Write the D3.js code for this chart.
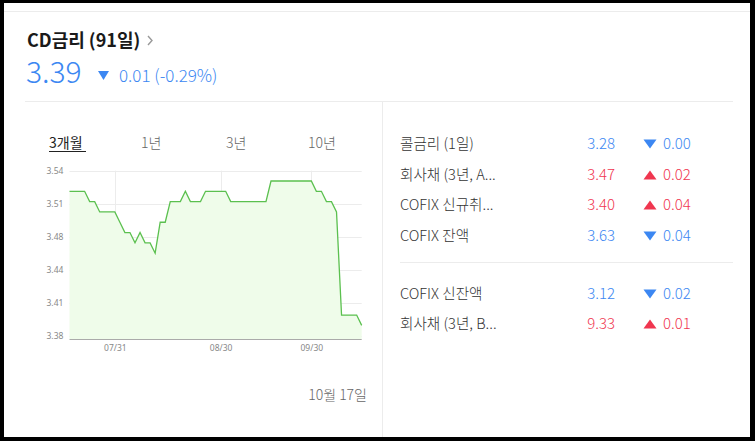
<!DOCTYPE html>
<html><head><meta charset="utf-8">
<script src="https://cdn.jsdelivr.net/npm/d3@7"></script>
<style>
html,body{margin:0;padding:0;background:#000;}
svg{display:block;font-family:"Noto Sans CJK KR","Noto Sans",sans-serif;}
</style></head>
<body>
<svg id="c" width="755" height="441"></svg>
<script>
// ---- data ----
const dates = ["07/18","07/19","07/22","07/23","07/24","07/25","07/26","07/29","07/30","07/31",
"08/01","08/02","08/05","08/06","08/07","08/08","08/09","08/12","08/13","08/14","08/16","08/19","08/20","08/21","08/22","08/23","08/26","08/27","08/28","08/29","08/30",
"09/02","09/03","09/04","09/05","09/06","09/09","09/10","09/11","09/12","09/13","09/19","09/20","09/23","09/24","09/25","09/26","09/27","09/30",
"10/02","10/04","10/07","10/08","10/10","10/11","10/14","10/15","10/16","10/17"];
const values = [3.52,3.52,3.52,3.52,3.51,3.51,3.50,3.50,3.50,3.50,
3.49,3.48,3.48,3.47,3.48,3.47,3.47,3.46,3.49,3.49,3.51,3.51,3.51,3.52,3.51,3.51,3.51,3.52,3.52,3.52,3.52,
3.52,3.51,3.51,3.51,3.51,3.51,3.51,3.51,3.51,3.53,3.53,3.53,3.53,3.53,3.53,3.53,3.53,3.53,
3.52,3.52,3.51,3.51,3.50,3.40,3.40,3.40,3.40,3.39];
const xTickLabels = ["07/31","08/30","09/30"];
const yTicks = [3.38,3.412,3.444,3.476,3.508,3.54];
const tabs = ["3개월","1년","3년","10년"];
const rowNames = ["콜금리 (1일)","회사채 (3년, A...","COFIX 신규취...","COFIX 잔액","COFIX 신잔액","회사채 (3년, B..."];
const rowValues = ["3.28","3.47","3.40","3.63","3.12","9.33"];
const rowChanges = ["0.00","0.02","0.04","0.04","0.02","0.01"];
const rowDir = ["down","up","up","down","down","up"];
const headline = {title:"CD금리 (91일)", value:"3.39", change:"0.01 (-0.29%)", date:"10월 17일"};

const BLUE="#3c87f2", RED="#f0364f";
const svg = d3.select("#c");
// frame
svg.append("rect").attr("x",4).attr("y",3).attr("width",746).attr("height",434).attr("fill","#fff");
svg.append("line").attr("x1",4).attr("x2",750).attr("y1",11.5).attr("y2",11.5).attr("stroke","#ececec");
svg.append("line").attr("x1",25).attr("x2",733).attr("y1",101.5).attr("y2",101.5).attr("stroke","#ececec");
svg.append("line").attr("x1",382.5).attr("x2",382.5).attr("y1",101.5).attr("y2",437).attr("stroke","#ececec");

// header
svg.append("text").attr("x",27).attr("y",47).attr("font-size",18).attr("font-weight",700).attr("fill","#1a1a1a").text(headline.title);
svg.append("path").attr("d","M148,36 L152,40.5 L148,45").attr("fill","none").attr("stroke","#999").attr("stroke-width",1.4);
svg.append("text").attr("x",26).attr("y",83).attr("font-size",30).attr("font-weight",300).attr("fill",BLUE).text(headline.value);
svg.append("path").attr("d","M98,71 L109,71 L103.5,80 Z").attr("fill",BLUE);
svg.append("text").attr("x",119).attr("y",82).attr("font-size",17).attr("font-weight",300).attr("fill",BLUE).text(headline.change);

// tabs
const tabX = [49,141,226,308];
tabs.forEach((s,i)=>{
  svg.append("text").attr("x",tabX[i]).attr("y",148).attr("font-size",14).attr("font-weight",i===0?400:300)
    .attr("fill",i===0?"#222":"#666").text(s);
});
svg.append("line").attr("x1",49).attr("x2",86).attr("y1",151.5).attr("y2",151.5).attr("stroke","#222").attr("stroke-width",1);

// chart
const pLeft=69.5, pRight=361.7, pTop=170.7, pBot3=335.7, pBottom=339;
const x = d3.scaleLinear().domain([0, dates.length-1]).range([pLeft,pRight]);
const y = d3.scaleLinear().domain([3.38,3.54]).range([pBot3, pTop]);
const g = svg.append("g");
// horizontal grid
g.selectAll("line.hg").data(yTicks).join("line").attr("class","hg")
  .attr("x1",pLeft).attr("x2",pRight).attr("y1",d=>Math.round(y(d))+0.5).attr("y2",d=>Math.round(y(d))+0.5)
  .attr("stroke","#ececec");
// vertical grid
const xTickIdx = xTickLabels.map(l=>dates.indexOf(l));
g.selectAll("line.vg").data(xTickIdx).join("line").attr("class","vg")
  .attr("x1",d=>Math.round(x(d))+0.5).attr("x2",d=>Math.round(x(d))+0.5).attr("y1",pTop).attr("y2",pBottom)
  .attr("stroke","#ececec");
// area
const area = d3.area().x((d,i)=>x(i)).y0(pBottom).y1(d=>y(d));
g.append("path").datum(values).attr("d",area).attr("fill","#effcea");
const line = d3.line().x((d,i)=>x(i)).y(d=>y(d));
g.append("path").datum(values).attr("d",line).attr("fill","none").attr("stroke","#5bc04f").attr("stroke-width",1.3);
// baseline
g.append("line").attr("x1",pLeft).attr("x2",pRight).attr("y1",pBottom+0.5).attr("y2",pBottom+0.5).attr("stroke","#aaa");
// y axis
const ya = g.append("g").attr("transform",`translate(${pLeft-2},0)`)
  .call(d3.axisLeft(y).tickValues(yTicks).tickFormat(d3.format(".2f")).tickSize(0).tickPadding(0));
ya.select(".domain").remove();
ya.selectAll("text").attr("font-size",8.5).attr("fill","#888").attr("font-family","'Noto Sans',sans-serif").attr("text-anchor","start").attr("x",-21);
// x axis
const xa = g.append("g").attr("transform",`translate(0,${pBottom})`)
  .call(d3.axisBottom(x).tickValues(xTickIdx).tickFormat(i=>dates[i]).tickSize(0).tickPadding(6));
xa.select(".domain").remove();
xa.selectAll("text").attr("font-size",8.5).attr("fill","#888").attr("font-family","'Noto Sans',sans-serif");

// date
svg.append("text").attr("x",367).attr("y",400).attr("text-anchor","end").attr("font-size",14).attr("font-weight",300).attr("fill","#666").text(headline.date);

// right panel
const rowY = [144,175,205,236,294,324];
rowNames.forEach((n,i)=>{
  const c = rowDir[i]==="up"?RED:BLUE;
  const yy=rowY[i]+5;
  svg.append("text").attr("x",400).attr("y",yy).attr("font-size",14.6).attr("font-weight",300).attr("fill","#333").text(n);
  svg.append("text").attr("x",615).attr("y",yy).attr("text-anchor","end").attr("font-size",15).attr("font-weight",300).attr("fill",c).text(rowValues[i]);
  const cy=rowY[i];
  svg.append("path").attr("d", rowDir[i]==="up"
      ? `M643.5,${cy+4.5} L656.5,${cy+4.5} L650,${cy-4.5} Z`
      : `M643.5,${cy-4.5} L656.5,${cy-4.5} L650,${cy+4.5} Z`).attr("fill",c);
  svg.append("text").attr("x",663).attr("y",yy).attr("font-size",15).attr("font-weight",300).attr("fill",c).text(rowChanges[i]);
});
svg.append("line").attr("x1",400).attr("x2",733).attr("y1",262.5).attr("y2",262.5).attr("stroke","#ececec");
</script>
</body></html>
